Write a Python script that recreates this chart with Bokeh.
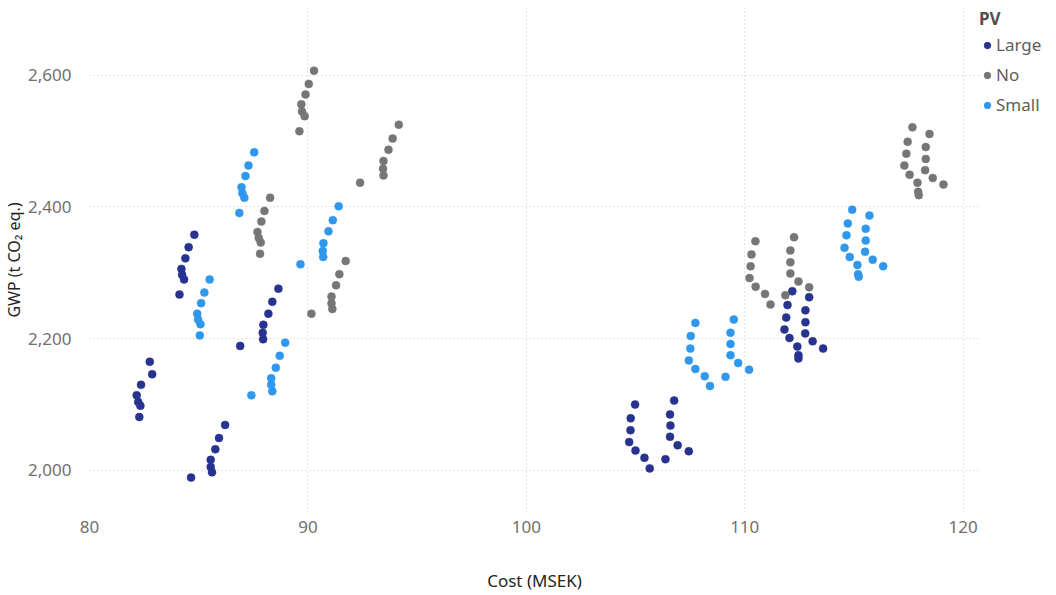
from bokeh.plotting import figure
from bokeh.layouts import row
from bokeh.models import (ColumnDataSource, Legend, LegendItem, FixedTicker,
                          NumeralTickFormatter, Range1d)
from bokeh.embed import file_html
from bokeh.resources import INLINE

# Cost (MSEK) and GWP (t CO2 eq.) per PV option, 8 groups of 7 scenarios each
large_cost = [84.80, 84.54, 84.39, 84.21, 84.24, 84.33, 84.12,
              82.76, 82.87, 82.36, 82.16, 82.23, 82.33, 82.28,
              86.21, 85.93, 85.76, 85.55, 85.55, 85.61, 84.65,
              88.65, 88.37, 88.19, 87.96, 87.93, 87.95, 86.90,
              104.98, 104.78, 104.77, 104.71, 105.00, 105.41, 105.65,
              106.77, 106.58, 106.60, 106.58, 106.93, 107.44, 106.37,
              112.18, 111.96, 111.90, 111.82, 112.05, 112.41, 112.46,
              112.95, 112.78, 112.78, 112.77, 113.11, 113.59, 112.46]
large_gwp = [2358, 2339, 2322, 2306, 2297, 2290, 2267,
             2165, 2146, 2130, 2114, 2104, 2098, 2081,
             2069, 2049, 2032, 2016, 2005, 1997, 1989,
             2276, 2256, 2238, 2221, 2209, 2199, 2189,
             2100, 2079, 2061, 2043, 2030, 2019, 2003,
             2106, 2085, 2068, 2051, 2038, 2029, 2017,
             2272, 2251, 2232, 2214, 2201, 2188, 2175,
             2263, 2243, 2225, 2208, 2196, 2185, 2170]

no_cost = [90.28, 90.04, 89.89, 89.70, 89.73, 89.85, 89.61,
           88.27, 88.01, 87.87, 87.69, 87.75, 87.84, 87.81,
           94.16, 93.88, 93.69, 93.46, 93.44, 93.46, 92.39,
           91.73, 91.44, 91.29, 91.08, 91.08, 91.12, 90.16,
           110.49, 110.31, 110.27, 110.22, 110.50, 110.93, 111.18,
           112.26, 112.09, 112.09, 112.09, 112.46, 112.95, 111.86,
           117.68, 117.46, 117.40, 117.31, 117.55, 117.91, 117.94,
           118.46, 118.29, 118.29, 118.26, 118.61, 119.10, 117.97]
no_gwp = [2607, 2587, 2571, 2556, 2545, 2538, 2515,
          2414, 2394, 2378, 2362, 2353, 2346, 2329,
          2525, 2504, 2487, 2470, 2458, 2448, 2437,
          2318, 2298, 2281, 2264, 2254, 2245, 2238,
          2348, 2328, 2310, 2292, 2279, 2268, 2252,
          2354, 2334, 2316, 2299, 2287, 2278, 2266,
          2521, 2499, 2481, 2463, 2449, 2437, 2423,
          2511, 2491, 2473, 2456, 2444, 2434, 2418]

small_cost = [87.54, 87.28, 87.14, 86.96, 87.00, 87.09, 86.86,
              91.41, 91.14, 90.94, 90.71, 90.68, 90.70, 89.66,
              85.50, 85.26, 85.11, 84.93, 84.97, 85.08, 85.05,
              88.96, 88.71, 88.53, 88.32, 88.32, 88.37, 87.41,
              107.74, 107.53, 107.51, 107.44, 107.74, 108.17, 108.41,
              109.50, 109.35, 109.35, 109.35, 109.70, 110.20, 109.12,
              114.92, 114.72, 114.66, 114.57, 114.81, 115.16, 115.19,
              115.71, 115.54, 115.54, 115.51, 115.86, 116.34, 115.22]
small_gwp = [2483, 2463, 2447, 2430, 2421, 2414, 2391,
             2401, 2380, 2363, 2345, 2333, 2324, 2313,
             2290, 2270, 2254, 2238, 2229, 2222, 2205,
             2194, 2174, 2156, 2140, 2130, 2120, 2114,
             2224, 2204, 2185, 2167, 2154, 2143, 2128,
             2229, 2209, 2192, 2175, 2163, 2153, 2142,
             2396, 2375, 2357, 2338, 2324, 2312, 2298,
             2387, 2367, 2349, 2332, 2320, 2310, 2294]

series_names = ["Large", "No", "Small"]
series_colors = ["#27338F", "#767676", "#2F97EC"]
x_ticks = [80, 90, 100, 110, 120]
y_ticks = [2000, 2200, 2400, 2600]

FONT = "Noto Sans"

# main scatter panel
p = figure(width=979, height=595, output_backend="svg", toolbar_location=None,
           x_range=Range1d(80, 120.75), y_range=Range1d(1936, 2703),
           min_border_left=88, min_border_right=0, min_border_top=7,
           min_border_bottom=83, outline_line_color=None)
p.background_fill_color = "white"
p.border_fill_color = "white"

for name, color, xs, ys in zip(series_names, series_colors,
                               [large_cost, no_cost, small_cost],
                               [large_gwp, no_gwp, small_gwp]):
    src = ColumnDataSource(dict(x=xs, y=ys))
    p.scatter("x", "y", source=src, size=8, marker="circle",
              fill_color=color, line_color=color, line_width=0.5)

# grid: light dotted lines on both axes
p.xaxis.ticker = FixedTicker(ticks=x_ticks)
p.yaxis.ticker = FixedTicker(ticks=y_ticks)
for g in (p.xgrid, p.ygrid):
    g.grid_line_color = "#C9C9C9"
    g.grid_line_dash = "1 3"
    g.grid_line_width = 1

p.yaxis.formatter = NumeralTickFormatter(format="0,0")

for ax in (p.xaxis, p.yaxis):
    ax.axis_line_color = None
    ax.major_tick_line_color = None
    ax.minor_tick_line_color = None
    ax.major_label_text_font = FONT
    ax.major_label_text_font_size = "17px"
    ax.major_label_text_color = "#707070"
    ax.axis_label_text_font = FONT
    ax.axis_label_text_font_style = "normal"
    ax.axis_label_text_color = "#252423"

p.xaxis.axis_label = "Cost (MSEK)"
p.xaxis.axis_label_text_font_size = "17px"
p.xaxis.major_label_standoff = 2
p.xaxis.axis_label_standoff = 33

p.yaxis.axis_label = "GWP (t CO\u2082 eq.)"
p.yaxis.axis_label_text_font_size = "16px"
p.yaxis.major_label_standoff = 12
p.yaxis.axis_label_standoff = 0

# legend panel to the right of the plot
lg = figure(width=77, height=595, output_backend="svg", toolbar_location=None,
            x_range=Range1d(0, 1), y_range=Range1d(0, 1),
            min_border_left=0, min_border_right=0, min_border_top=6,
            min_border_bottom=0, outline_line_color=None)
lg.axis.visible = False
lg.grid.visible = False
lg.background_fill_color = "white"
lg.border_fill_color = "white"

# legend swatches: one marker per series, kept outside the visible range
items = []
for name, color in zip(series_names, series_colors):
    r = lg.scatter(x=[-5], y=[-5], size=9, marker="circle",
                   fill_color=color, line_color=color)
    items.append(LegendItem(label=name, renderers=[r]))

legend = Legend(
    items=items, title="PV", location="top_left", orientation="vertical",
    margin=0, padding=0, spacing=7,
    glyph_width=16, glyph_height=20, label_height=20, label_standoff=1,
    label_text_font=FONT, label_text_font_size="17px", label_text_color="#605E5C",
    title_text_font=FONT, title_text_font_size="17px", title_text_font_style="bold",
    title_text_color="#505050", title_standoff=3,
    border_line_color=None, background_fill_alpha=0,
)
lg.add_layout(legend, "center")

layout = row(p, lg, spacing=0)
open("out.html", "w").write(file_html(layout, INLINE))
